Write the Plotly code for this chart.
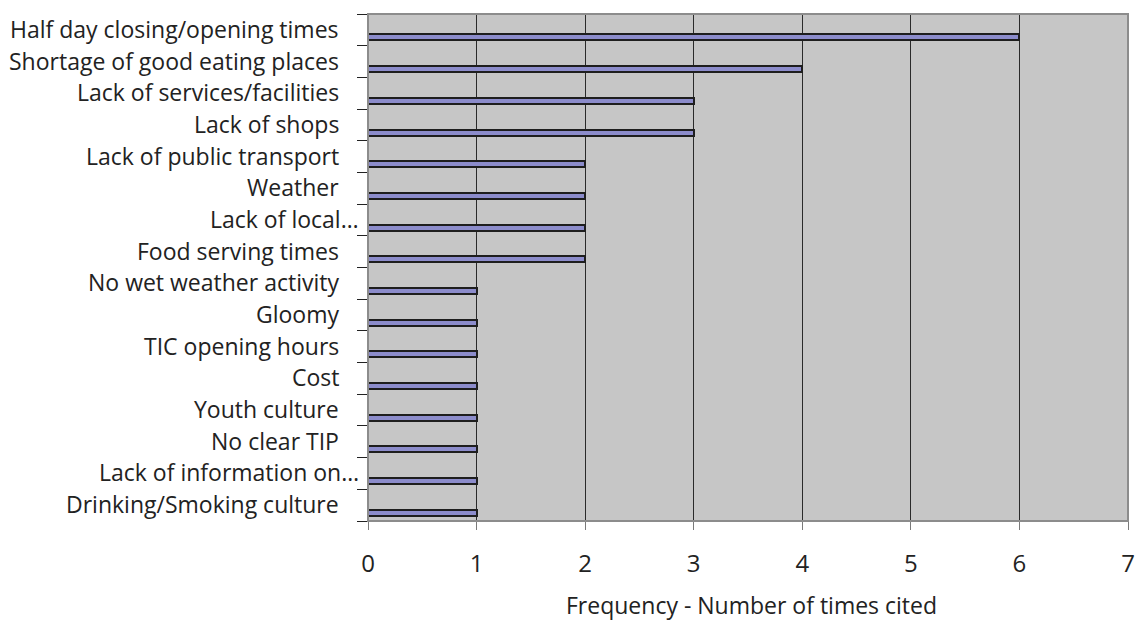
import plotly.graph_objects as go

# Reasons cited, listed top to bottom, with how often each was cited
reasons = [
    "Half day closing/opening times",
    "Shortage of good eating places",
    "Lack of services/facilities",
    "Lack of shops",
    "Lack of public transport",
    "Weather",
    "Lack of local…",
    "Food serving times",
    "No wet weather activity",
    "Gloomy",
    "TIC opening hours",
    "Cost",
    "Youth culture",
    "No clear TIP",
    "Lack of information on…",
    "Drinking/Smoking culture",
]
times_cited = [6, 4, 3, 3, 2, 2, 2, 2, 1, 1, 1, 1, 1, 1, 1, 1]
x_ticks = [0, 1, 2, 3, 4, 5, 6, 7]

n = len(reasons)
# row index from the bottom (0) to the top (n-1)
rows = [n - 1 - i for i in range(n)]
bar_pos = [r - 0.24 for r in rows]   # bars sit in the lower part of each band

FONT = "Open Sans"
TXT = "#222222"

fig = go.Figure(
    go.Bar(
        x=times_cited,
        y=bar_pos,
        orientation="h",
        width=0.19,
        marker=dict(color="#8C8CCB", line=dict(color="#1E1E1E", width=2)),
        hoverinfo="skip",
    )
)

# category labels, right aligned next to the axis
for name, r in zip(reasons, rows):
    fig.add_annotation(
        x=0, xref="paper", xanchor="right",
        y=r, yref="y", yanchor="middle", yshift=1,
        text=name, showarrow=False,
        xshift=-7 if name.endswith("…") else -27,
        font=dict(family=FONT, size=23, color=TXT),
    )

# x-axis title
fig.add_annotation(
    x=0.505, xref="paper", xanchor="center",
    y=0, yref="paper", yanchor="middle", yshift=-84,
    text="Frequency - Number of times cited", showarrow=False,
    font=dict(family=FONT, size=23, color=TXT),
)

# plot area border (top / right / bottom in grey)
fig.add_shape(type="rect", xref="paper", yref="paper", x0=0, x1=1, y0=0, y1=1,
              line=dict(color="#8C8C8C", width=2), layer="above")

fig.update_layout(
    width=1144, height=622,
    margin=dict(l=368, r=9, t=14, b=101),
    paper_bgcolor="white",
    plot_bgcolor="#C6C6C6",
    showlegend=False,
    bargap=0,
)
fig.update_xaxes(
    range=[0, 7], tickvals=x_ticks, ticktext=[str(v) for v in x_ticks],
    showgrid=True, gridcolor="#2A2A2A", gridwidth=1,
    ticks="outside", ticklen=8, tickcolor="#7A7A7A", tickwidth=1,
    ticklabelstandoff=13,
    tickfont=dict(family=FONT, size=24, color=TXT),
    showline=False, zeroline=False, fixedrange=True,
)
fig.update_yaxes(
    range=[-0.5, n - 0.5],
    tickvals=[k + 0.5 for k in range(-1, n)], ticktext=[""] * (n + 1),
    ticks="outside", ticklen=10, tickcolor="#222222", tickwidth=1,
    showgrid=False, zeroline=False,
    showline=True, linecolor="#222222", linewidth=1,
    fixedrange=True,
)

fig.write_html("out.html")
